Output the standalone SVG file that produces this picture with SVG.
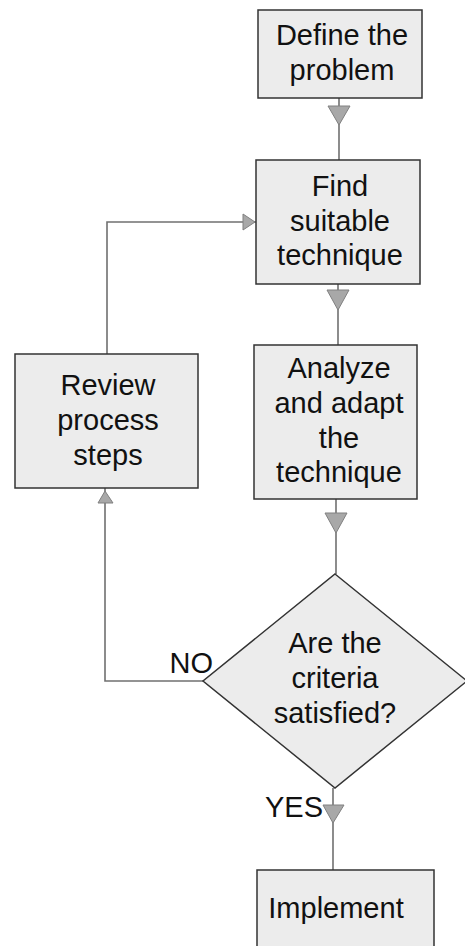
<svg xmlns="http://www.w3.org/2000/svg" width="465" height="946" viewBox="0 0 465 946">
<style>
.box{fill:#ececec;stroke:#333;stroke-width:1.5}
.t{font-family:"Liberation Sans",Arial,sans-serif;font-size:29px;fill:#111;text-anchor:middle}
.lbl{font-family:"Liberation Sans",Arial,sans-serif;font-size:29px;fill:#111}
.ln{fill:none;stroke:#707070;stroke-width:1.6}
.ah{fill:#a8a8a8;stroke:#808080;stroke-width:1}
</style>
<rect width="465" height="946" fill="#fff"/>
<g id="connectors">
<line class="ln" x1="339" y1="98" x2="339" y2="160"/>
<polygon class="ah" points="328,106 350,106 339,125"/>
<line class="ln" x1="338" y1="284" x2="338" y2="345"/>
<polygon class="ah" points="327,290 349,290 338,310"/>
<line class="ln" x1="336" y1="499" x2="336" y2="574"/>
<polygon class="ah" points="325,513 347,513 336,533"/>
<line class="ln" x1="333" y1="788" x2="333" y2="870"/>
<polygon class="ah" points="323,805 344,805 333,823"/>
<polyline class="ln" points="203,681 105,681 105,488"/>
<polygon class="ah" points="98,503 113,503 105,491"/>
<polyline class="ln" points="107,354 107,222 256,222"/>
<polygon class="ah" points="243,214 243,230 255,222"/>
<text class="lbl" x="213" y="673" text-anchor="end">NO</text>
<text class="lbl" x="323" y="817" text-anchor="end">YES</text>
</g>
<g id="define">
<rect class="box" x="258" y="10" width="164" height="88"/>
<text class="t" x="342" y="45">Define the</text>
<text class="t" x="342" y="80">problem</text>
</g>
<g id="find">
<rect class="box" x="256" y="160" width="164" height="124"/>
<text class="t" x="340" y="196">Find</text>
<text class="t" x="340" y="231">suitable</text>
<text class="t" x="340" y="265">technique</text>
</g>
<g id="analyze">
<rect class="box" x="254" y="345" width="163" height="154"/>
<text class="t" x="339" y="378">Analyze</text>
<text class="t" x="339" y="413">and adapt</text>
<text class="t" x="339" y="448">the</text>
<text class="t" x="339" y="482">technique</text>
</g>
<g id="review">
<rect class="box" x="15" y="354" width="183" height="134"/>
<text class="t" x="108" y="395">Review</text>
<text class="t" x="108" y="430">process</text>
<text class="t" x="108" y="465">steps</text>
</g>
<g id="decision">
<polygon class="box" points="335,574 467,681 335,788 203,681"/>
<text class="t" x="335" y="653">Are the</text>
<text class="t" x="335" y="688">criteria</text>
<text class="t" x="335" y="723">satisfied?</text>
</g>
<g id="implement">
<rect class="box" x="257" y="870" width="177" height="90"/>
<text class="t" x="336" y="918">Implement</text>
</g>
</svg>
